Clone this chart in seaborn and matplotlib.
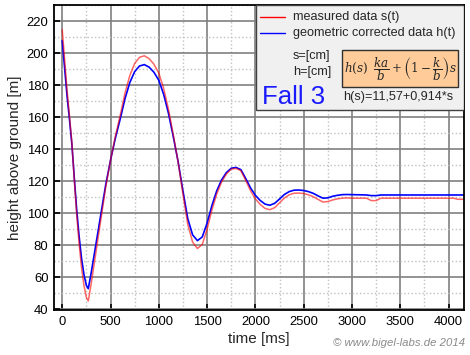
#-------------------------------------------------------------------------------------------
# Fall 3 - measured vs geometric corrected height
#-------------------------------------------------------------------------------------------

import numpy as np
import pandas as pd
import matplotlib
matplotlib.use("Agg")
import matplotlib.pyplot as plt
from matplotlib.lines import Line2D
from matplotlib.patches import Rectangle
from matplotlib.ticker import MultipleLocator
import seaborn as sns

#---------------------------
# Data
#---------------------------
time_ms = [0, 25, 50, 75, 100, 125, 150, 175, 200, 225, 250, 270,
           300, 350, 400, 450, 500, 550, 600, 650, 700, 750,
           800, 850, 900, 950, 1000, 1050, 1100, 1150, 1200, 1250,
           1300, 1350, 1400, 1450, 1500, 1550, 1600, 1650, 1700, 1750,
           1800, 1850, 1900, 1950, 2000, 2050, 2100, 2150, 2200, 2250,
           2300, 2350, 2400, 2450, 2500, 2550, 2600, 2650, 2700, 2750,
           2800, 2850, 2900, 2950, 3000,
           3100, 3150, 3200, 3250, 3300,
           3400, 3600, 3800, 4000, 4050, 4100, 4160]

measured_s = [214.6, 196, 177, 161, 144, 121, 99, 81, 66, 55, 47.5, 45.2,
              56, 76, 96, 116, 133, 148, 161, 175, 186, 193.5,
              197.3, 198.3, 196.5, 193, 187.5, 178, 165, 149, 132, 112,
              93, 82, 78, 80.5, 90, 102, 112, 119.5, 124.5, 127.5,
              128, 126.5, 120.5, 114, 109, 105.5, 103, 102.2, 103.5, 106.5,
              109.5, 111.5, 112.5, 112.6, 112.3, 111.5, 110.3, 108.6, 107, 107.3,
              108.3, 109, 109.4, 109.6, 109.4,
              109.4, 109.4, 107.9, 107.9, 109.4,
              109.4, 109.4, 109.4, 109.4, 109.4, 108.7, 108.7]

corrected_h = [207.7, 190.7, 173.3, 158.7, 143.2, 122.2, 102.1, 85.6, 71.9, 61.8, 55.0, 52.9,
               62.8, 81.0, 99.3, 117.6, 133.1, 146.8, 158.7, 171.5, 181.6, 188.4,
               191.9, 192.8, 191.2, 188.0, 183.0, 174.3, 162.4, 147.8, 132.2, 114.0,
               96.6, 86.5, 82.9, 85.2, 93.8, 104.8, 114.0, 120.8, 125.4, 128.1,
               128.6, 127.2, 121.7, 115.8, 111.2, 108.0, 105.7, 105.0, 106.2, 108.9,
               111.7, 113.5, 114.4, 114.5, 114.2, 113.5, 112.4, 110.8, 109.4, 109.6,
               110.6, 111.2, 111.6, 111.7, 111.6,
               111.5, 111.4, 111.0, 111.0, 111.4,
               111.4, 111.4, 111.4, 111.4, 111.4, 111.4, 111.4]

df = pd.DataFrame({"time": time_ms, "s": measured_s, "h": corrected_h})

#---------------------------
# Style
#---------------------------
sns.set_theme(style="white")
plt.rcParams['font.family'] = ['Liberation Sans', 'DejaVu Sans']
plt.rcParams['mathtext.fontset'] = 'dejavuserif'

fig = plt.figure(figsize=(4.7, 3.55), dpi=100)
ax = fig.add_axes([54/470, 1 - 310/355, 410/470, 305/355])

# Lines: blue below, translucent red on top.
sns.lineplot(data=df, x="time", y="h", color="blue", linewidth=1.2, estimator=None, ax=ax)
sns.lineplot(data=df, x="time", y="s", color="red", alpha=0.6, linewidth=1.1, estimator=None, ax=ax)

ax.set_xlim(-85, 4160)
ax.set_ylim(39.6, 230)
ax.xaxis.set_major_locator(MultipleLocator(500))
ax.xaxis.set_minor_locator(MultipleLocator(250))
ax.yaxis.set_major_locator(MultipleLocator(20))
ax.yaxis.set_minor_locator(MultipleLocator(10))

# Grid.
ax.grid(which="major", color="#808080", linestyle="-", linewidth=1.2)
ax.grid(which="minor", color="#c0c0c0", linestyle=":", linewidth=1.0)
ax.set_axisbelow(True)

for sp in ax.spines.values():
    sp.set_color("black")
    sp.set_linewidth(1.3)

ax.tick_params(axis="both", which="major", direction="in", length=4, width=1.2,
               labelsize=9.4, colors="black", pad=4)
ax.tick_params(axis="y", which="minor", direction="in", length=3, width=1.0)
ax.tick_params(axis="x", which="minor", length=0)
ax.tick_params(left=True, bottom=True)

ax.set_xlabel("time [ms]", fontsize=11, labelpad=3)
ax.set_ylabel("height above ground [m]", fontsize=11, labelpad=3)

#---------------------------
# Legend / info box
#---------------------------
def px(x, y):
    # pixel position -> axes fraction
    return (x - 54) / 410, (310 - y) / 305

bx, by = px(256, 110)
ax.add_patch(Rectangle((bx, by), 1 - bx, 1 - by, transform=ax.transAxes,
                       facecolor="#f0f0f0", edgecolor="#404040", linewidth=1.0, zorder=5))

for yy, col, label in [(17.3, "red", "measured data s(t)"),
                       (33.3, "blue", "geometric corrected data h(t)")]:
    x0, y0 = px(260, yy)
    x1, _ = px(285, yy)
    ax.add_line(Line2D([x0, x1], [y0, y0], color=col, linewidth=1.0,
                       transform=ax.transAxes, zorder=6))
    tx, _ = px(293, yy)
    ax.text(tx, y0, label, transform=ax.transAxes, fontsize=9.1,
            va="center", ha="left", zorder=6)

for yy, label in [(56, "s=[cm]"), (71.7, "h=[cm]")]:
    tx, ty = px(293, yy)
    ax.text(tx, ty, label, transform=ax.transAxes, fontsize=9.1,
            va="center", ha="left", zorder=6)

fx0, fy0 = px(341.7, 87.3)
fx1, fy1 = px(458.3, 50)
ax.add_patch(Rectangle((fx0, fy0), fx1 - fx0, fy1 - fy0, transform=ax.transAxes,
                       facecolor="#ffcc99", edgecolor="#303030", linewidth=1.0, zorder=6))
ax.text((fx0 + fx1) / 2, (fy0 + fy1) / 2,
        r"$h(s)\;\;\dfrac{ka}{b}+\left(1-\dfrac{k}{b}\right)s$",
        transform=ax.transAxes, fontsize=8.6, ha="center", va="center", zorder=7)

tx, ty = px(262, 97)
ax.text(tx, ty, "Fall 3", transform=ax.transAxes, fontsize=18.5, color="#1a1aff",
        va="center", ha="left", zorder=6)
tx, ty = px(343, 97.3)
ax.text(tx, ty, "h(s)=11,57+0,914*s", transform=ax.transAxes, fontsize=9.1,
        va="center", ha="left", zorder=6)

fig.text(465/470, 1 - 343/355, "© www.bigel-labs.de 2014", fontsize=8.2,
         style="italic", color="#8a8a8a", ha="right", va="center")

plt.savefig("out.png", dpi=100)
